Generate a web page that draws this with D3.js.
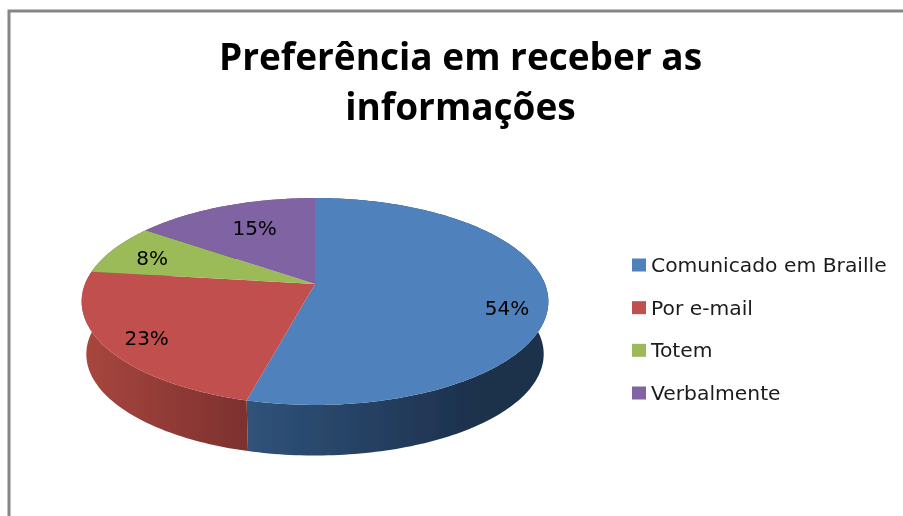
<!DOCTYPE html>
<html><head><meta charset="utf-8">
<script src="https://cdn.jsdelivr.net/npm/d3@7/dist/d3.min.js"></script>
<style>html,body{margin:0;padding:0;background:#fff}svg{display:block}</style>
</head><body><script>
const titleLines = ["Preferência em receber as", "informações"];
const categories = ["Comunicado em Braille", "Por e-mail", "Totem", "Verbalmente"];
const values = [54, 23, 8, 15];
const topColors = ["#4f81bd", "#c0504d", "#9bbb59", "#8064a2"];
const wallStart = ["#30527a", "#a8463f", "#7a9446", "#644e80"];
const wallEnd = ["#1c304c", "#7c302e", "#5c7034", "#4a3a60"];

const W = 903, H = 516;
const svg = d3.select("body").append("svg").attr("width", W).attr("height", H);
const defs = svg.append("defs");
defs.append("filter").attr("id", "soft").append("feGaussianBlur").attr("stdDeviation", 0.45);

// frame
svg.append("path").attr("d", `M9,${H}V11H${W}`).attr("fill", "none").attr("stroke", "#868686").attr("stroke-width", 3);

// title
svg.append("g").attr("filter", "url(#soft)").selectAll("text").data(titleLines).join("text")
  .attr("x", 460.5).attr("y", (d, i) => 70 + i * 50)
  .attr("text-anchor", "middle")
  .attr("font-family", "'Open Sans', sans-serif").attr("font-weight", 700)
  .attr("font-size", 37).attr("fill", "#000")
  .text(d => d);

// perspective disc
const cx = 315, cy = 284, a = 230, b = 100.5, p = 0.169;
const project = (theta, scale, drop) => {
  const u = Math.sin(theta), v = -Math.cos(theta), w = 1 - p * v;
  return [cx + scale * a * u / w, cy + drop + scale * b * v / w];
};
const sample = (t0, t1, scale, drop) => {
  const n = Math.max(2, Math.ceil(Math.abs(t1 - t0) / 0.02));
  return d3.range(n + 1).map(i => project(t0 + (t1 - t0) * i / n, scale, drop));
};
const line = d3.line();
const pie = d3.pie().sort(null).value(d => d);
const arcs = pie(values);
const color = d3.scaleOrdinal().domain(categories).range(topColors);

// walls
const depth = 53, bottomScale = 0.98;
const disc = svg.append("g").attr("filter", "url(#soft)");
arcs.forEach((d, i) => {
  const pts = sample(d.startAngle, d.endAngle, 1, 0);
  const low = sample(d.startAngle, d.endAngle, bottomScale, depth).reverse();
  const gid = "wall" + i;
  const g = defs.append("linearGradient").attr("id", gid).attr("gradientUnits", "userSpaceOnUse")
    .attr("x1", 249).attr("x2", i === 0 ? 480 : 85).attr("y1", 0).attr("y2", 0);
  g.append("stop").attr("offset", 0).attr("stop-color", i === 1 ? wallEnd[i] : wallStart[i]);
  g.append("stop").attr("offset", 1).attr("stop-color", i === 1 ? wallStart[i] : wallEnd[i]);
  disc.append("path").attr("d", line(pts.concat(low)) + "Z").attr("fill", `url(#${gid})`);
});

// top face
disc.append("g").selectAll("path").data(arcs).join("path")
  .attr("d", d => line([[cx, cy], ...sample(d.startAngle, d.endAngle, 1, 0)]) + "Z")
  .attr("fill", (d, i) => color(categories[i]));

// data labels
const labelShift = [[0, 13], [-17, 9], [-18, -1], [5, 0]];
const labelRadius = [0.824, 0.72, 0.72, 0.72];
svg.append("g").attr("filter", "url(#soft)").selectAll("text").data(arcs).join("text")
  .attr("x", (d, i) => project((d.startAngle + d.endAngle) / 2, labelRadius[i], 0)[0] + labelShift[i][0])
  .attr("y", (d, i) => project((d.startAngle + d.endAngle) / 2, labelRadius[i], 0)[1] + labelShift[i][1])
  .attr("dy", "0.35em").attr("text-anchor", "middle")
  .attr("font-family", "'DejaVu Sans', sans-serif").attr("font-size", 20).attr("fill", "#000")
  .text((d, i) => values[i] + "%");

// legend
const legendY = d3.scalePoint().domain(categories).range([265, 393]);
const legend = svg.append("g").selectAll("g").data(categories).join("g")
  .attr("transform", d => `translate(632,${legendY(d)})`);
legend.append("rect").attr("x", 0).attr("y", -6.5).attr("width", 14).attr("height", 13).attr("fill", d => color(d));
legend.append("text").attr("x", 19).attr("dy", "0.35em").attr("filter", "url(#soft)")
  .attr("font-family", "'DejaVu Sans', sans-serif").attr("font-size", 20.3).attr("fill", "#1a1a1a")
  .text(d => d);
</script></body></html>
